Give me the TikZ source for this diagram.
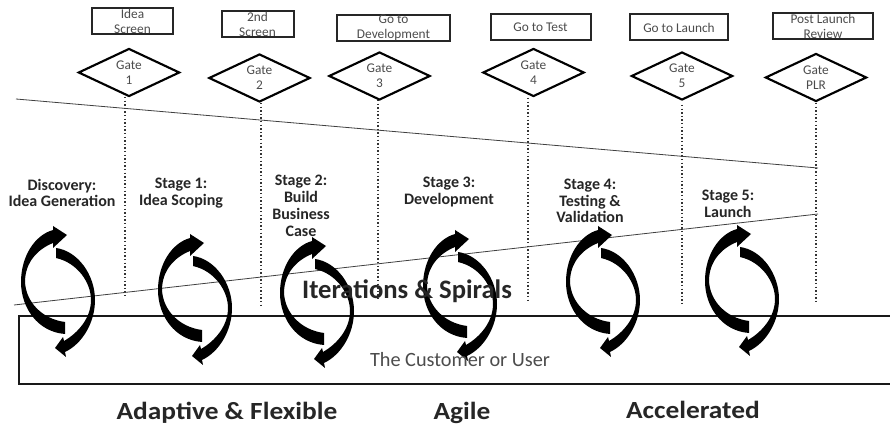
\documentclass[tikz,border=0pt]{standalone}
\usepackage{fontspec}
\setmainfont{Carlito}
\usetikzlibrary{shapes.geometric}
\tikzset{x=0.75pt,y=-0.75pt,
 boxn/.style={draw=black!85,line width=1.5pt,fill=white,minimum height=19.5pt,inner sep=0pt},
 boxlab/.style={align=center,font=\fontsize{10}{11}\selectfont,text=black!70},
 gaten/.style={draw=black,line width=1.6pt,fill=white,diamond,aspect=2.1,minimum width=76pt,minimum height=36pt,inner sep=0pt},
 gatelab/.style={align=center,font=\fontsize{10}{11}\selectfont,text=black!70},
 dots/.style={line width=1.1pt,dash pattern=on 1.1pt off 1.6pt,black!80},
 thinl/.style={line width=0.6pt,black!75},
 stagel/.style={align=center,font=\bfseries\fontsize{12}{12.6}\selectfont,text=black!85},
 big/.style={font=\bfseries\fontsize{20}{22}\selectfont,text=black!85},
 bottoml/.style={font=\bfseries\fontsize{18.5}{22}\selectfont,text=black!85,anchor=base,inner sep=0pt,xscale=1.11,transform shape}}
\newcommand{\spiralpair}[2]{%
 \begin{scope}[shift={(#1,#2)}]
 \fill[black] (65,334) .. controls (38,332) and (21,308) .. (21,282) .. controls (21,256) and (35,235) .. (53,230) -- (53,226) -- (67,235) -- (53,248) -- (53,243) .. controls (38,249) and (25,262) .. (25,282) .. controls (26,302) and (42,319) .. (65,322) -- cycle;
 \fill[black] (56,248) .. controls (78,251) and (95,275) .. (95,300) .. controls (95,323) and (82,344) .. (65,352) -- (66,357) -- (55,348) -- (63,337) -- (64,341) .. controls (78,333) and (91,318) .. (91,300) .. controls (91,283) and (78,263) .. (56,258) -- cycle;
 \end{scope}}
\begin{document}
\begin{tikzpicture}
\useasboundingbox (0,0) rectangle (890,424);
\fill[white] (0,0) rectangle (890,424);
% customer box (runs off the right edge)
\node[draw=black!90,line width=1.3pt,minimum width=690pt,minimum height=51pt,inner sep=0pt,anchor=north west] (cust) at (18,315) {};
% dotted lines
\coordinate (d1a) at (125,97); \coordinate (d1b) at (125,298);
\coordinate (d2a) at (261,103); \coordinate (d2b) at (261,305);
\coordinate (d3a) at (378,100); \coordinate (d3b) at (378,300);
\coordinate (d4a) at (528,98); \coordinate (d4b) at (528,300);
\coordinate (d5a) at (682,105); \coordinate (d5b) at (682,305);
\coordinate (d6a) at (816,103); \coordinate (d6b) at (816,304);
\foreach \a/\b in {d1a/d1b,d2a/d2b,d3a/d3b,d4a/d4b,d5a/d5b,d6a/d6b} \draw[dots] (\a) -- (\b);
% wedge
\coordinate (wa) at (16,99); \coordinate (wb) at (818,168);
\coordinate (wc) at (14,305); \coordinate (wd) at (818,214);
\draw[thinl] (wa) -- (wb);
\draw[thinl] (wc) -- (wd);
% top boxes
\node[boxn,minimum width=61pt] (b1) at (132.5,21.5) {};
\node[boxn,minimum width=54pt] (b2) at (257.5,24.5) {};
\node[boxn,minimum width=85pt] (b3) at (393.5,28) {};
\node[boxn,minimum width=75pt] (b4) at (540.5,27.5) {};
\node[boxn,minimum width=74pt] (b5) at (679,27.5) {};
\node[boxn,minimum width=75.5pt] (b6) at (823,26.5) {};
\node[boxlab] (bl1) at (b1) {Idea\\Screen};
\node[boxlab] (bl2) at (b2) {2nd\\Screen};
\node[boxlab] (bl3) at (b3) {Go to\\Development};
\node[boxlab] (bl4) at (b4) {Go to Test};
\node[boxlab] (bl5) at (b5) {Go to Launch};
\node[boxlab] (bl6) at (b6) {Post Launch\\Review};
% gates
\node[gaten] (g1) at (129,72.5) {};
\node[gaten] (g2) at (259.5,78) {};
\node[gaten] (g3) at (379.5,76) {};
\node[gaten] (g4) at (533.5,72.5) {};
\node[gaten] (g5) at (682,76) {};
\node[gaten] (g6) at (816,77.5) {};
\node[gatelab] (gl1) at (g1) {Gate\\1};
\node[gatelab] (gl2) at (g2) {Gate\\2};
\node[gatelab] (gl3) at (g3) {Gate\\3};
\node[gatelab] (gl4) at (g4) {Gate\\4};
\node[gatelab] (gl5) at (g5) {Gate\\5};
\node[gatelab] (gl6) at (g6) {Gate\\PLR};
% stages
\node[stagel] (s0) at (62,193) {Discovery:\\Idea Generation};
\node[stagel] (s1) at (181,193) {Stage 1:\\Idea Scoping};
\node[stagel] (s2) at (301,206) {Stage 2:\\Build\\Business\\Case};
\node[stagel] (s3) at (449,192) {Stage 3:\\Development};
\node[stagel] (s4) at (590,201) {Stage 4:\\Testing \&\\Validation};
\node[stagel] (s5) at (728,204) {Stage 5:\\Launch};
% spirals
\spiralpair{0}{0}
\spiralpair{137}{8}
\spiralpair{259}{11}
\spiralpair{402}{4}
\spiralpair{545}{0}
\spiralpair{684}{-1}
% texts over the spirals
\node[big] (iter) at (407,291) {Iterations \& Spirals};
\node[font=\fontsize{15.2}{17}\selectfont,text=black!70] (custl) at (460,360) {The Customer or User};
\node[bottoml] (t1) at (227,419) {Adaptive \& Flexible};
\node[bottoml] (t2) at (462,419) {Agile};
\node[bottoml] (t3) at (693,418) {Accelerated};
\end{tikzpicture}
\end{document}
